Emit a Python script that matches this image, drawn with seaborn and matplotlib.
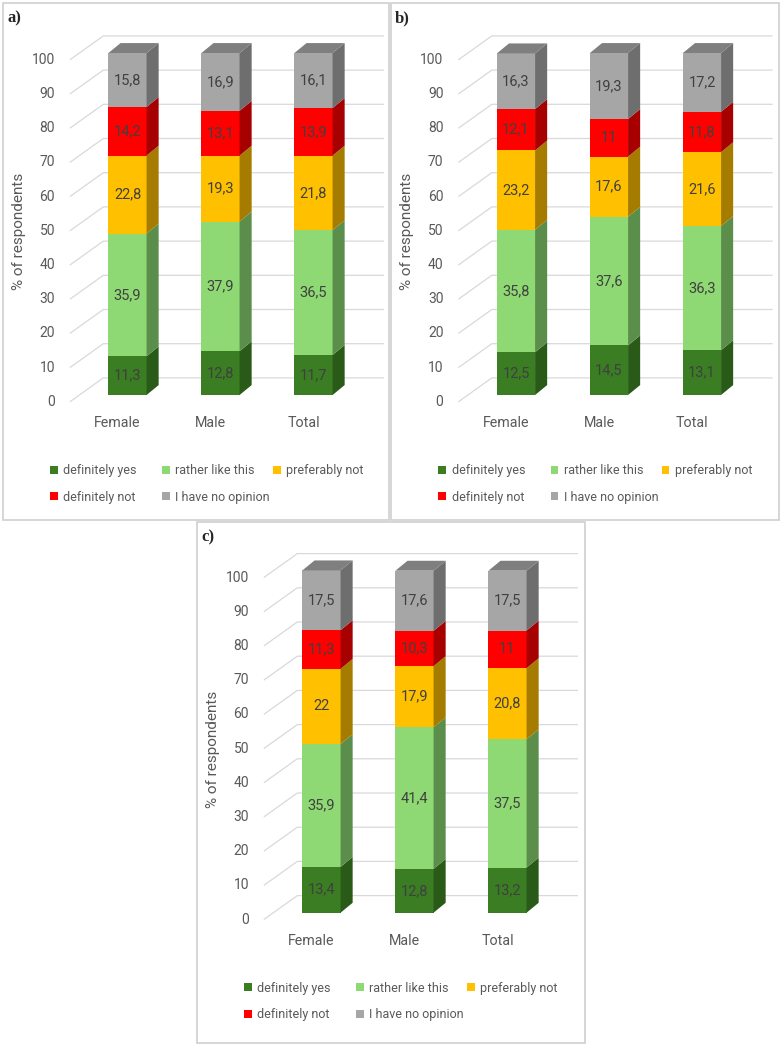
import numpy as np
import pandas as pd
import matplotlib
matplotlib.use("Agg")
import matplotlib.pyplot as plt
from matplotlib.patches import Polygon, Rectangle, Patch
import seaborn as sns

# Data
groups = ["Female", "Male", "Total"]
responses = ["definitely yes", "rather like this", "preferably not", "definitely not", "I have no opinion"]
panel_a = {
    "definitely yes": [11.3, 12.8, 11.7],
    "rather like this": [35.9, 37.9, 36.5],
    "preferably not": [22.8, 19.3, 21.8],
    "definitely not": [14.2, 13.1, 13.9],
    "I have no opinion": [15.8, 16.9, 16.1],
}
panel_b = {
    "definitely yes": [12.5, 14.5, 13.1],
    "rather like this": [35.8, 37.6, 36.3],
    "preferably not": [23.2, 17.6, 21.6],
    "definitely not": [12.1, 11.0, 11.8],
    "I have no opinion": [16.3, 19.3, 17.2],
}
panel_c = {
    "definitely yes": [13.4, 12.8, 13.2],
    "rather like this": [35.9, 41.4, 37.5],
    "preferably not": [22.0, 17.9, 20.8],
    "definitely not": [11.3, 10.3, 11.0],
    "I have no opinion": [17.5, 17.6, 17.5],
}
yticks = [0, 10, 20, 30, 40, 50, 60, 70, 80, 90, 100]

front_colors = ["#3A7D22", "#8ED973", "#FFC000", "#FF0000", "#A6A6A6"]
side_colors = ["#2A5A18", "#5B8E4A", "#A67C00", "#A60000", "#6E6E6E"]
top_color = "#7F7F7F"
grid_color = "#D9D9D9"
text_color = "#595959"
label_color = "#404040"

W, H = 782, 1046
sns.set_theme(style="white")
plt.rcParams["font.family"] = ["Roboto", "DejaVu Sans"]

fig = plt.figure(figsize=(W / 100, H / 100), dpi=100)

# layout constants (pixels per unit)
PX_X = 93.0
PX_Y = 3.42
XLIM = (-0.85, 2.76)
YLIM = (-10, 106)
BAR_W = 0.41
DX, DY = 0.13, 2.9          # bar depth
WALL_X, WALL_DY = -0.26, 5  # back wall
DIAG_X, DIAG_DY = -0.62, -2


def fmt(v):
    s = f"{v:.1f}".replace(".", ",")
    return s[:-2] if s.endswith(",0") else s


def draw_panel(data, cx, zy, tag, frame):
    # axes placed so that x=0 lands on cx and v=0 on zy (pixels)
    left = cx + PX_X * XLIM[0]
    right = cx + PX_X * XLIM[1]
    top = zy - PX_Y * YLIM[1]
    bottom = zy - PX_Y * YLIM[0]
    ax = fig.add_axes([left / W, 1 - bottom / H, (right - left) / W, (bottom - top) / H])

    # back wall grid with perspective lines
    for v in yticks:
        ax.plot([DIAG_X, WALL_X, XLIM[1]], [v + DIAG_DY, v + WALL_DY, v + WALL_DY],
                color=grid_color, lw=0.9, zorder=0, solid_capstyle="butt")
        ax.text(DIAG_X - 0.16, v + DIAG_DY, str(v), ha="right", va="center",
                fontsize=10, color=text_color)

    # stacked front faces (cumulative, drawn from the top down)
    df = pd.DataFrame(data, index=groups)
    cum = df[responses].cumsum(axis=1)
    long = cum.reset_index().melt(id_vars="index", var_name="response", value_name="cum")
    long = long.rename(columns={"index": "group"})
    for resp, col in zip(responses[::-1], front_colors[::-1]):
        sns.barplot(data=long[long["response"] == resp], x="group", y="cum", order=groups,
                    color=col, saturation=1, width=BAR_W, errorbar=None, linewidth=0,
                    ax=ax, zorder=2)

    # side and top faces + value labels
    for i, g in enumerate(groups):
        x0, x1 = i - BAR_W / 2, i + BAR_W / 2
        b = 0.0
        for j, resp in enumerate(responses):
            v = df.loc[g, resp]
            t = b + v
            ax.add_patch(Polygon([(x1, b), (x1 + DX, b + DY), (x1 + DX, t + DY), (x1, t)],
                                 closed=True, facecolor=side_colors[j], lw=0, zorder=2))
            ax.text(i, b + v / 2, fmt(v), ha="center", va="center", fontsize=10.5,
                    color=label_color, zorder=3)
            b = t
        ax.add_patch(Polygon([(x0, b), (x0 + DX, b + DY), (x1 + DX, b + DY), (x1, b)],
                             closed=True, facecolor=top_color, lw=0, zorder=2))
        ax.text(i - 0.107, -8.2, g, ha="center", va="center", fontsize=10.3, color=text_color)

    ax.text(-1.17, 47.7, "% of respondents", rotation=90, ha="center", va="center",
            fontsize=11, color=text_color, clip_on=False)

    ax.set_xlim(*XLIM)
    ax.set_ylim(*YLIM)
    ax.set_axis_off()

    # legend: three equal-width columns, as in the original
    handles = [Patch(facecolor=c, edgecolor="none") for c in front_colors]
    columns = [([0, 3], -77.5), ([1, 4], 34.5), ([2], 145.5)]
    for idx, off in columns:
        fig.legend([handles[k] for k in idx], [responses[k] for k in idx],
                   ncol=1, loc="upper left", frameon=False,
                   bbox_to_anchor=((cx + off) / W, 1 - (zy + 69) / H),
                   fontsize=9, handlelength=0.6, handleheight=0.6, handletextpad=0.45,
                   labelspacing=1.1, borderpad=0, borderaxespad=0,
                   labelcolor=text_color)

    # panel frame and tag
    fx0, fy0, fx1, fy1 = frame
    fig.patches.append(Rectangle((fx0 / W, 1 - fy1 / H), (fx1 - fx0) / W, (fy1 - fy0) / H,
                                 transform=fig.transFigure, fill=False,
                                 edgecolor="#D0D0D0", lw=1.2))
    fig.text((fx0 + 4) / W, 1 - (fy0 + 7) / H, tag, ha="left", va="top", fontsize=12,
             fontweight="bold", family="Liberation Serif")


draw_panel(panel_a, 127.5, 395, "a)", (3, 3, 389, 520))
draw_panel(panel_b, 516, 395, "b)", (391, 3, 779, 520))
draw_panel(panel_c, 321.5, 912.7, "c)", (197, 522, 585, 1043))

fig.savefig("out.png", dpi=100)
